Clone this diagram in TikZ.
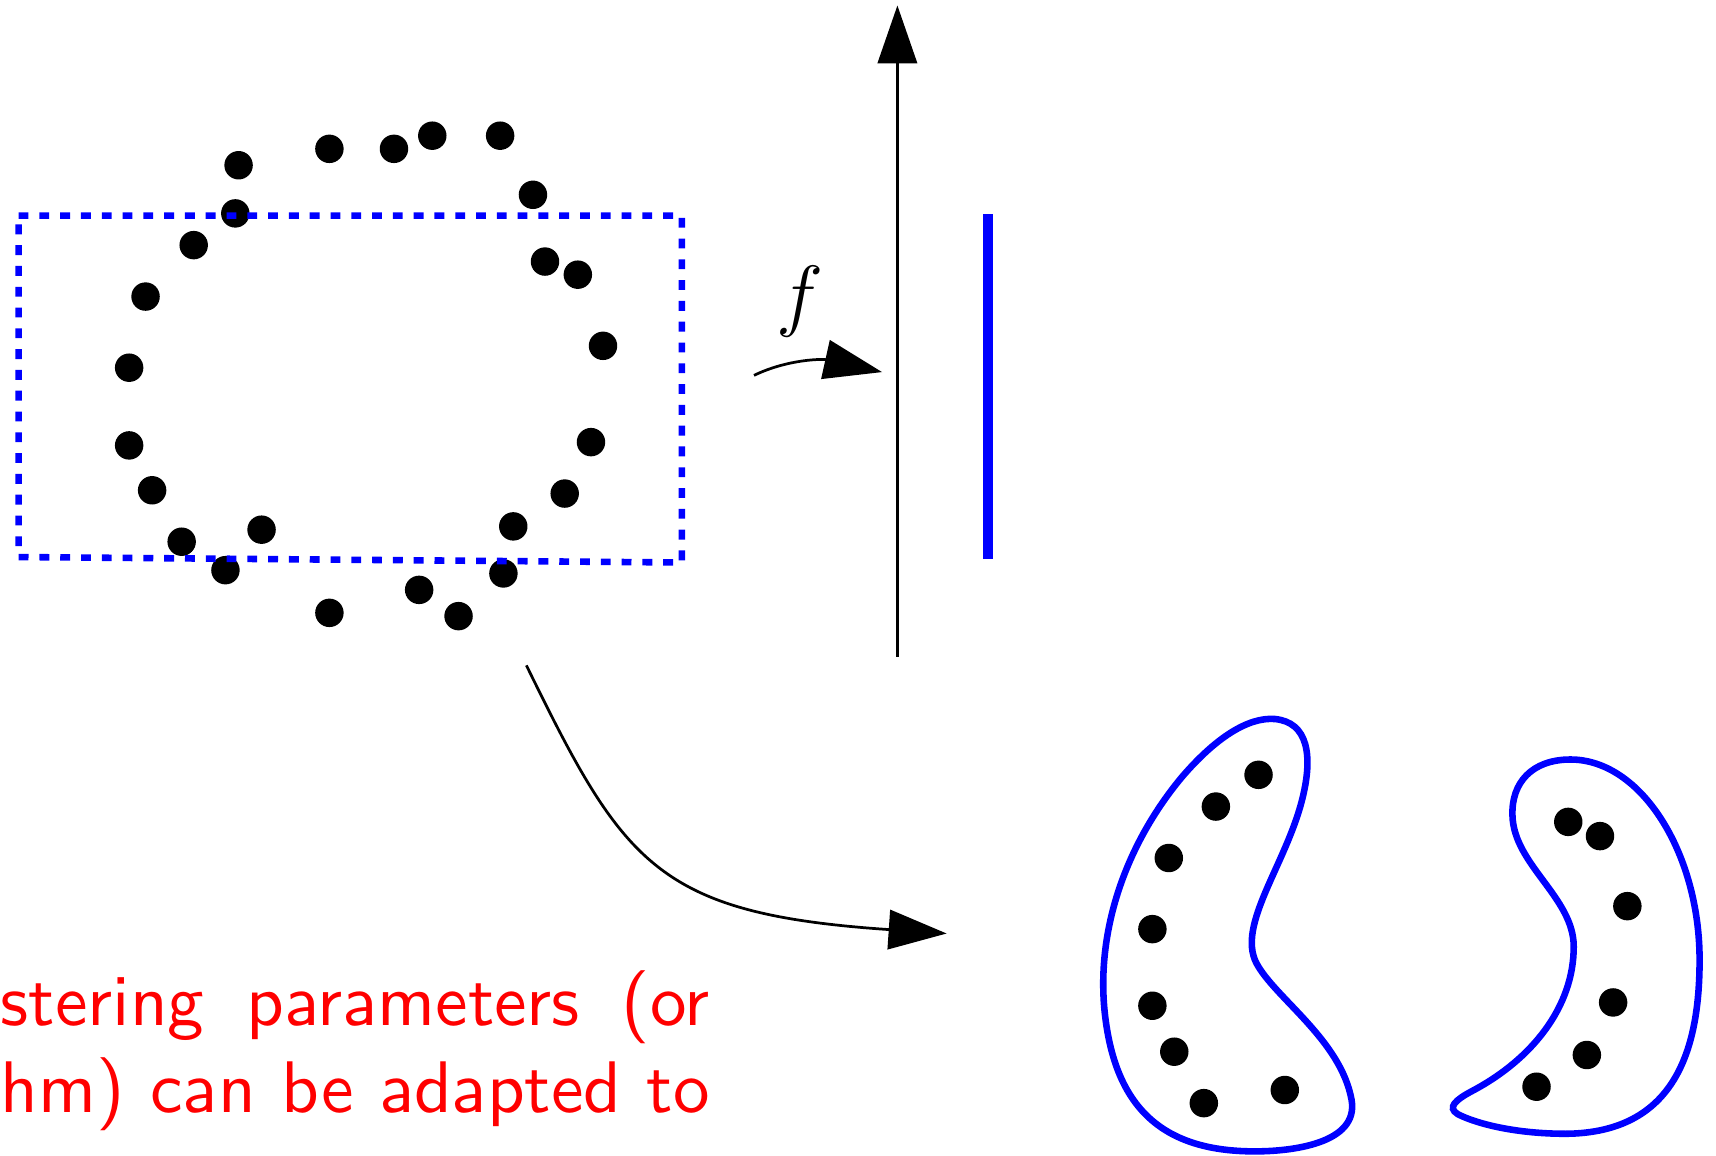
\documentclass[tikz,border=0pt]{standalone}
\usepackage{amsmath,amssymb}
\usepackage{fontspec}
\usepackage{xcolor}
\usepackage{tikz}
\usetikzlibrary{arrows.meta}
\newfontfamily\capfont{lmsans10-regular.otf}

\begin{document}
\begin{tikzpicture}[
        x=0.1mm, y=-0.1mm,
        arr/.style={-{Triangle[length=5.3mm, width=3.6mm]}, line width=0.25mm},
        blob/.style={draw=blue, line width=0.6mm},
        box/.style={draw=blue, line width=0.6mm, dash pattern=on 0.9mm off 1mm},
        bar/.style={draw=blue, line width=0.9mm},
        lbl/.style={font=\fontsize{20}{24}\selectfont},
        txt/.style={text=red, inner sep=0pt, anchor=base west,
                    font=\capfont\fontsize{19}{22.8}\selectfont}
    ]
    \useasboundingbox (0,0) rectangle (1568,1056);
    % Ring of points
    \foreach \x/\y in {218/151, 301/136, 360/136, 395/124, 457/124, 487/178,
                       215/195, 177/224, 133/271, 118/336, 118/407, 139/448,
                       166/495, 239/484, 206/521, 301/560, 383/539, 419/563,
                       460/524, 469/481, 516/451, 540/404, 551/316, 498/239,
                       528/251}
        \fill (\x,\y) circle (1.3mm);
    % Dashed window
    \draw[box] (17,197) -- (623,197) -- (623,514) -- (17,509) -- cycle;
    % Projection axis
    \coordinate (axbot) at (820,600);
    \coordinate (axtop) at (820,5);
    \draw[arr] (axbot) -- (axtop);
    \coordinate (bartop) at (903,196);
    \coordinate (barbot) at (903,511);
    \draw[bar] (bartop) -- (barbot);
    % Map f
    \coordinate (fstart) at (689,343);
    \coordinate (fend) at (806,340);
    \draw[arr] (fstart) .. controls (720,328) and (752,328) .. (fend);
    \node[lbl] (flabel) at (731,276) {$f$};
    % Map to clusters
    \coordinate (mapstart) at (481,608);
    \coordinate (mapend) at (865,853);
    \draw[arr] (mapstart) .. controls (570,790) and (600,835) .. (mapend);
    % Left cluster
    \draw[blob] (1165,657) .. controls (1195,660) and (1200,690) .. (1190,730)
        .. controls (1175,790) and (1130,845) .. (1148,880)
        .. controls (1165,912) and (1225,950) .. (1235,1005)
        .. controls (1242,1045) and (1180,1053) .. (1140,1052)
        .. controls (1060,1050) and (1020,1010) .. (1010,930)
        .. controls (1000,850) and (1030,770) .. (1080,710)
        .. controls (1110,675) and (1140,655) .. (1165,657) -- cycle;
    \foreach \x/\y in {1150/708, 1111/737, 1068/784, 1053/849, 1053/919,
                       1073/961, 1100/1008, 1174/996}
        \fill (\x,\y) circle (1.3mm);
    % Right cluster
    \draw[blob] (1435,694) .. controls (1500,694) and (1553,780) .. (1553,877)
        .. controls (1553,960) and (1530,1035) .. (1431,1036)
        .. controls (1380,1036) and (1345,1025) .. (1332,1018)
        .. controls (1322,1012) and (1330,1005) .. (1345,997)
        .. controls (1400,968) and (1438,920) .. (1438,865)
        .. controls (1438,820) and (1383,790) .. (1382,745)
        .. controls (1381,715) and (1400,694) .. (1435,694) -- cycle;
    \foreach \x/\y in {1433/751, 1462/764, 1487/828, 1474/916, 1450/964,
                       1404/993}
        \fill (\x,\y) circle (1.3mm);
    % Caption fragment
    \node[txt] (line1) at (0,937) {\makebox[6.48cm][s]{stering parameters (or}};
    \node[txt] (line2) at (0,1017) {\makebox[6.48cm][s]{hm) can be adapted to}};
\end{tikzpicture}
\end{document}
